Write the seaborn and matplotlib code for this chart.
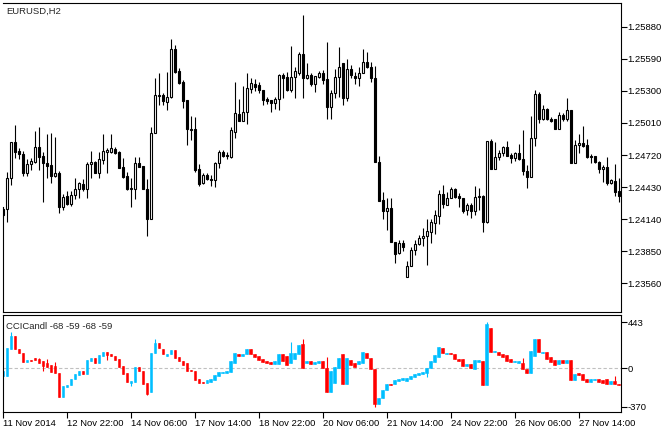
import numpy as np
import pandas as pd
import matplotlib
matplotlib.use("Agg")
import matplotlib.pyplot as plt
import seaborn as sns

# EURUSD H2 candles
opens = [1.24229, 1.24229, 1.24509, 1.24835, 1.24759, 1.24729, 1.24560, 1.24636, 1.24657, 1.24790,
         1.24711, 1.24645, 1.24630, 1.24533, 1.24554, 1.24253, 1.24353, 1.24277, 1.24359, 1.24410,
         1.24458, 1.24410, 1.24636, 1.24655, 1.24560, 1.24675, 1.24750, 1.24750, 1.24775, 1.24745,
         1.24609, 1.24530, 1.24410, 1.24417, 1.24645, 1.24621, 1.24417, 1.24145, 1.24922, 1.25254,
         1.25260, 1.25203, 1.25242, 1.25675, 1.25477, 1.25377, 1.25215, 1.24953, 1.24953, 1.24591,
         1.24464, 1.24537, 1.24500, 1.24494, 1.24645, 1.24745, 1.24718, 1.24706, 1.24932, 1.25091,
         1.25031, 1.25106, 1.25320, 1.25362, 1.25350, 1.25308, 1.25227, 1.25218, 1.25188, 1.25224,
         1.25441, 1.25429, 1.25308, 1.25426, 1.25465, 1.25633, 1.25420, 1.25441, 1.25359, 1.25423,
         1.25459, 1.25405, 1.25157, 1.25278, 1.25423, 1.25549, 1.25239, 1.25495, 1.25435, 1.25413,
         1.25459, 1.25558, 1.25513, 1.25420, 1.24661, 1.24314, 1.24218, 1.24239, 1.23930, 1.23833,
         1.23924, 1.23617, 1.23719, 1.23857, 1.23914, 1.23969, 1.23984, 1.24023, 1.24110, 1.24173,
         1.24369, 1.24270, 1.24336, 1.24414, 1.24354, 1.24336, 1.24224, 1.24269, 1.24215, 1.24339,
         1.24354, 1.24113, 1.24848, 1.24592, 1.24700, 1.24736, 1.24790, 1.24721, 1.24697, 1.24736,
         1.24682, 1.24577, 1.24520, 1.24871, 1.25272, 1.25043, 1.25133, 1.25046, 1.25043, 1.24953,
         1.25082, 1.25043, 1.25127, 1.24651, 1.24811, 1.24832, 1.24811, 1.24712, 1.24712, 1.24661,
         1.24592, 1.24616, 1.24471, 1.24486, 1.24399]
highs = [1.24238, 1.24569, 1.24841, 1.24991, 1.24780, 1.24759, 1.24681, 1.24697, 1.24937, 1.24970,
         1.24750, 1.24910, 1.24916, 1.24880, 1.24579, 1.24368, 1.24398, 1.24398, 1.24509, 1.24479,
         1.24500, 1.24660, 1.24757, 1.24667, 1.24750, 1.24910, 1.24780, 1.24910, 1.24790, 1.24757,
         1.24690, 1.24569, 1.24509, 1.24705, 1.24699, 1.24621, 1.24500, 1.24976, 1.25417, 1.25465,
         1.25278, 1.25474, 1.25766, 1.25715, 1.25507, 1.25398, 1.25215, 1.25073, 1.25061, 1.24636,
         1.24554, 1.24561, 1.24537, 1.24660, 1.24765, 1.24765, 1.24751, 1.24971, 1.25383, 1.25224,
         1.25344, 1.25459, 1.25420, 1.25405, 1.25377, 1.25308, 1.25248, 1.25218, 1.25248, 1.25453,
         1.25465, 1.25474, 1.25709, 1.25513, 1.25651, 1.25986, 1.25549, 1.25465, 1.25432, 1.25480,
         1.25489, 1.25742, 1.25308, 1.25495, 1.25693, 1.25549, 1.25585, 1.25534, 1.25474, 1.25519,
         1.25678, 1.25654, 1.25558, 1.25525, 1.24712, 1.24383, 1.24329, 1.24329, 1.23930, 1.23954,
         1.23954, 1.23758, 1.23893, 1.23954, 1.23998, 1.24059, 1.24140, 1.24143, 1.24224, 1.24405,
         1.24450, 1.24390, 1.24429, 1.24420, 1.24375, 1.24336, 1.24284, 1.24284, 1.24441, 1.24426,
         1.24360, 1.24848, 1.24866, 1.24842, 1.24766, 1.24806, 1.24848, 1.24742, 1.24751, 1.24821,
         1.24946, 1.24631, 1.25073, 1.25308, 1.25293, 1.25173, 1.25142, 1.25067, 1.25043, 1.25106,
         1.25097, 1.25233, 1.25127, 1.24856, 1.24907, 1.24982, 1.24865, 1.24727, 1.24712, 1.24667,
         1.24631, 1.24706, 1.24500, 1.24637, 1.24510]
lows = [1.24163, 1.24118, 1.24449, 1.24690, 1.24681, 1.24530, 1.24530, 1.24582, 1.24651, 1.24585,
        1.24298, 1.24509, 1.24470, 1.24524, 1.24193, 1.24223, 1.24265, 1.24262, 1.24321, 1.24329,
        1.24398, 1.24329, 1.24509, 1.24554, 1.24509, 1.24636, 1.24554, 1.24741, 1.24729, 1.24600,
        1.24509, 1.24404, 1.24253, 1.24321, 1.24609, 1.24410, 1.23991, 1.24145, 1.24916, 1.25173,
        1.25173, 1.25127, 1.25236, 1.25458, 1.25362, 1.25148, 1.24811, 1.24856, 1.24570, 1.24440,
        1.24458, 1.24494, 1.24440, 1.24434, 1.24600, 1.24700, 1.24681, 1.24691, 1.24872, 1.25031,
        1.25031, 1.25001, 1.25278, 1.25302, 1.25284, 1.25173, 1.25182, 1.25113, 1.25137, 1.25128,
        1.25233, 1.25302, 1.25287, 1.25239, 1.25441, 1.25233, 1.25405, 1.25344, 1.25290, 1.25414,
        1.25362, 1.25043, 1.25049, 1.25239, 1.25248, 1.25173, 1.25212, 1.25413, 1.25359, 1.25347,
        1.25459, 1.25504, 1.25383, 1.24661, 1.24308, 1.24146, 1.24044, 1.23930, 1.23743, 1.23824,
        1.23854, 1.23617, 1.23719, 1.23818, 1.23908, 1.23899, 1.23728, 1.23923, 1.24008, 1.24098,
        1.24240, 1.24264, 1.24330, 1.24330, 1.24246, 1.24194, 1.24179, 1.24155, 1.24179, 1.24224,
        1.24020, 1.24110, 1.24592, 1.24592, 1.24676, 1.24712, 1.24712, 1.24652, 1.24670, 1.24676,
        1.24535, 1.24426, 1.24520, 1.24806, 1.25007, 1.25037, 1.25037, 1.25016, 1.24953, 1.24953,
        1.25031, 1.25031, 1.24645, 1.24651, 1.24742, 1.24790, 1.24691, 1.24646, 1.24652, 1.24561,
        1.24479, 1.24449, 1.24455, 1.24354, 1.24291]
closes = [1.24175, 1.24509, 1.24835, 1.24750, 1.24729, 1.24554, 1.24639, 1.24666, 1.24790, 1.24705,
          1.24645, 1.24624, 1.24533, 1.24554, 1.24253, 1.24338, 1.24277, 1.24359, 1.24410, 1.24464,
          1.24410, 1.24639, 1.24655, 1.24560, 1.24681, 1.24759, 1.24765, 1.24780, 1.24741, 1.24606,
          1.24524, 1.24410, 1.24420, 1.24645, 1.24615, 1.24417, 1.24145, 1.24922, 1.25260, 1.25260,
          1.25212, 1.25242, 1.25675, 1.25471, 1.25374, 1.25212, 1.24953, 1.24950, 1.24585, 1.24458,
          1.24537, 1.24500, 1.24494, 1.24645, 1.24745, 1.24712, 1.24709, 1.24947, 1.25097, 1.25031,
          1.25106, 1.25323, 1.25368, 1.25338, 1.25308, 1.25218, 1.25212, 1.25188, 1.25224, 1.25441,
          1.25420, 1.25308, 1.25426, 1.25480, 1.25633, 1.25420, 1.25441, 1.25359, 1.25432, 1.25459,
          1.25398, 1.25157, 1.25278, 1.25423, 1.25513, 1.25239, 1.25495, 1.25444, 1.25413, 1.25459,
          1.25558, 1.25513, 1.25420, 1.24661, 1.24308, 1.24218, 1.24239, 1.23930, 1.23824, 1.23924,
          1.23893, 1.23719, 1.23863, 1.23914, 1.23969, 1.23990, 1.24029, 1.24113, 1.24179, 1.24369,
          1.24276, 1.24336, 1.24414, 1.24339, 1.24336, 1.24215, 1.24269, 1.24215, 1.24345, 1.24351,
          1.24119, 1.24848, 1.24592, 1.24700, 1.24742, 1.24790, 1.24715, 1.24697, 1.24736, 1.24682,
          1.24577, 1.24520, 1.24871, 1.25272, 1.25043, 1.25133, 1.25043, 1.25031, 1.24953, 1.25082,
          1.25043, 1.25127, 1.24645, 1.24811, 1.24832, 1.24802, 1.24700, 1.24706, 1.24661, 1.24592,
          1.24616, 1.24471, 1.24495, 1.24390, 1.24354]

# CCICandl indicator (open / close of each indicator candle)
cci_open = [-73, -73, 187, 307, 187, 143, 63, 79, 100, 92,
            70, 48, 29, 22, -48, -273, -178, -162, -105, -63,
            -29, -57, 70, 98, 48, 117, 155, 133, 117, 86,
            22, -41, -136, -127, 16, -25, -143, -231, 149, 244,
            187, 120, 140, 174, 111, 70, 48, -16, -25, -105,
            -130, -136, -127, -111, -73, -41, -41, -35, 54, 140,
            117, 140, 181, 133, 117, 92, 70, 60, 38, 38,
            133, 117, 48, 92, 140, 228, 48, 70, 38, 48,
            70, 0, -231, -143, 6, 133, -152, 76, 54, 38,
            54, 143, 95, -3, -342, -288, -209, -152, -152, -120,
            -114, -120, -105, -82, -63, -51, -41, 0, 60, 111,
            197, 140, 143, 140, 92, 86, 22, 44, -10, 60,
            70, -162, 387, 155, 158, 133, 124, 86, 60, 54,
            54, -6, -41, 117, 282, 143, 158, 108, 79, 38,
            76, 48, 76, -114, -48, -57, -98, -130, -114, -105,
            -111, -105, -152, -120, -152]
cci_close = [-25, 197, 307, 187, 143, 63, 79, 70, 80, 54,
             22, 16, -35, -41, -273, -168, -159, -105, -57, -29,
             -57, 79, 98, 48, 130, 155, 124, 117, 79, 16,
             -51, -130, -120, 16, -25, -152, -241, 149, 244, 190,
             133, 140, 174, 101, 70, 29, -25, -25, -111, -136,
             -136, -114, -98, -67, -35, -35, -25, 70, 143, 117,
             140, 181, 140, 111, 79, 60, 54, 38, 70, 133,
             70, 32, 143, 143, 219, 0, 70, 38, 60, 70,
             6, -231, -25, 16, 101, -152, 98, 29, 16, 70,
             155, 101, -3, -342, -288, -209, -152, -162, -114, -98,
             -89, -95, -73, -57, -48, -35, 6, 70, 124, 206,
             149, 149, 133, 92, 70, 22, 38, 0, 79, 76,
             -162, 420, 155, 165, 127, 108, 70, 60, 70, 70,
             -10, -41, 165, 285, 155, 158, 86, 63, 32, 76,
             48, 76, -114, -57, -67, -111, -130, -105, -105, -127,
             -136, -152, -120, -152, -155]
# visible wicks beyond the bodies
cci_wick_high = {2: 345, 9: 100, 11: 86, 13: 63, 38: 276, 72: 254, 75: 276,
                 81: 111, 121: 443, 130: 101, 153: -73}
cci_wick_low = {10: -25, 26: 79, 32: -168, 36: -257, 93: -370, 106: -82}

date_labels = ["11 Nov 2014", "12 Nov 22:00", "14 Nov 06:00", "17 Nov 14:00", "18 Nov 22:00",
               "20 Nov 06:00", "21 Nov 14:00", "24 Nov 22:00", "26 Nov 06:00", "27 Nov 14:00"]
price_ticks = [1.23560, 1.23850, 1.24140, 1.24430, 1.24720, 1.25010, 1.25300, 1.25590, 1.25880]
cci_ticks = [-370, 0, 443]

sns.set_style("white")
plt.rcParams["font.family"] = ["Liberation Sans", "DejaVu Sans"]
FS = 6.8
BLUE = "#00BFFF"
RED = "#FF0000"

df = pd.DataFrame({"open": opens, "high": highs, "low": lows, "close": closes,
                   "cci_o": cci_open, "cci_c": cci_close})
df["bar"] = np.arange(len(df))
df["cci_hi"] = df[["cci_o", "cci_c"]].max(axis=1)
df["cci_lo"] = df[["cci_o", "cci_c"]].min(axis=1)
for k, v in cci_wick_high.items():
    df.loc[k, "cci_hi"] = v
for k, v in cci_wick_low.items():
    df.loc[k, "cci_lo"] = v

fig = plt.figure(figsize=(6.72, 4.32), dpi=100)
W, H = 672, 432
ax1 = fig.add_axes([2.7 / W, 1 - 312 / H, 618 / W, 309.3 / H])
ax2 = fig.add_axes([2.7 / W, 1 - 411.7 / H, 618 / W, 96.7 / H])

# price candles
up = df["close"] >= df["open"]
ax1.vlines(df["bar"], df["low"], df["high"], color="black", lw=0.8, zorder=1)
ax1.bar(df["bar"], df["close"] - df["open"], bottom=df["open"], width=0.5,
        color=np.where(up, "white", "black"), edgecolor="black", linewidth=0.8, zorder=2)
ax1.set_ylim(1.23301, 1.26097)
ax1.set_xlim(-0.1, 154.55)
ax1.set_xticks([])
ax1.set_yticks(price_ticks)
ax1.set_yticklabels([f"{t:.5f}" for t in price_ticks])
ax1.text(0.006, 0.986, "EURUSD,H2", transform=ax1.transAxes, fontsize=FS, va="top", ha="left")

# CCI candles
cup = df["cci_c"] >= df["cci_o"]
cols = np.where(cup, BLUE, RED)
ax2.axhline(0, color="#C0C0C0", lw=0.8, ls=(0, (3, 2)), zorder=0)
ax2.vlines(df["bar"], df["cci_lo"], df["cci_hi"], colors=cols, lw=0.8, zorder=1)
ax2.bar(df["bar"], df["cci_c"] - df["cci_o"], bottom=df["cci_o"], width=0.7,
        color=cols, edgecolor=cols, linewidth=0.4, zorder=2)
ax2.set_ylim(-415, 510)
ax2.set_xlim(-0.1, 154.55)
ax2.set_yticks(cci_ticks)
ax2.set_yticklabels([str(t) for t in cci_ticks])
ax2.set_xticks(np.arange(0, len(df), 16))
ax2.set_xticklabels(date_labels, ha="left")
ax2.text(0.006, 0.93, "CCICandl -68 -59 -68 -59", transform=ax2.transAxes,
         fontsize=FS, va="top", ha="left")

for ax in (ax1, ax2):
    for s in ax.spines.values():
        s.set_visible(True)
        s.set_color("black")
        s.set_linewidth(0.8)
    ax.yaxis.tick_right()
    ax.tick_params(axis="y", which="both", left=False, right=True, labelleft=False,
                   labelright=True, direction="out", length=4, width=0.8, pad=1,
                   labelsize=FS, colors="black")
    ax.set_facecolor("white")
ax2.tick_params(axis="x", bottom=True, direction="out", length=4, width=0.8, pad=1,
                labelsize=FS, colors="black")
ax1.spines["left"].set_bounds(1.23301, 1.2425)

fig.savefig("out.png", dpi=100, facecolor="white")
